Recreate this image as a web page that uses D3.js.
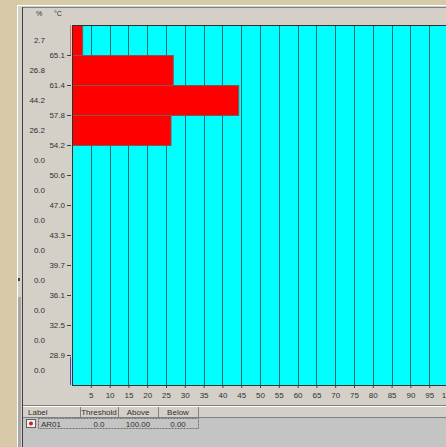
<!DOCTYPE html>
<html>
<head>
<meta charset="utf-8">
<script src="https://cdn.jsdelivr.net/npm/d3@7"></script>
<style>
  html, body { margin: 0; padding: 0; background: #d4d0c8; overflow: hidden; }
  svg { display: block; font-family: "Liberation Sans", Arial, sans-serif; font-size: 8px; }
</style>
</head>
<body>
<svg id="chart" width="446" height="447"></svg>
<script>
// temperature bin edges shown as ticks (top to bottom)
var tempTicks = ["65.1", "61.4", "57.8", "54.2", "50.6", "47.0", "43.3", "39.7", "36.1", "32.5", "28.9"];
// percent of area per bin (top to bottom)
var percents = [2.7, 26.8, 44.2, 26.2, 0.0, 0.0, 0.0, 0.0, 0.0, 0.0, 0.0, 0.0];
var xTicks = d3.range(5, 101, 5);
var tableHeaders = ["Label", "Threshold", "Above", "Below"];
var tableRow = ["AR01", "0.0", "100.00", "0.00"];

var svg = d3.select("#chart");
var W = 446, H = 447;

// window chrome
svg.append("rect").attr("width", W).attr("height", H).attr("fill", "#d4d0c8");
svg.append("rect").attr("width", 17).attr("height", H).attr("fill", "#d6caa8");
svg.append("rect").attr("width", W).attr("height", 5).attr("fill", "#d6caa8");
svg.append("line").attr("x1", 17).attr("x2", W).attr("y1", 5.5).attr("y2", 5.5).attr("stroke", "#ffffff");
svg.append("line").attr("x1", 17.5).attr("x2", 17.5).attr("y1", 5).attr("y2", H).attr("stroke", "#ffffff");
svg.append("line").attr("x1", 22).attr("x2", W).attr("y1", 7.5).attr("y2", 7.5).attr("stroke", "#808080");
svg.append("line").attr("x1", 22.5).attr("x2", 22.5).attr("y1", 7).attr("y2", H).attr("stroke", "#404040");
svg.append("rect").attr("x", 18).attr("y", 297).attr("width", 3).attr("height", H - 297).attr("fill", "#a8a8a8");
svg.append("rect").attr("x", 18).attr("y", 278).attr("width", 2).attr("height", 3).attr("fill", "#404040");

// scales
var x = d3.scaleLinear().domain([0, 100]).range([72, 448]);
var edge = d3.scaleLinear().domain([0, percents.length]).range([25, 385]);
var y = d3.scaleBand().domain(d3.range(percents.length)).range([25, 385]);

// plot background
svg.append("rect")
  .attr("x", x(0)).attr("y", edge(0))
  .attr("width", x(100) - x(0)).attr("height", edge(12) - edge(0))
  .attr("fill", "#00ffff");

// vertical grid
svg.append("g")
  .selectAll("line")
  .data(xTicks)
  .enter()
  .append("line")
  .attr("x1", function(d) { return Math.round(x(d)) + 0.5; })
  .attr("x2", function(d) { return Math.round(x(d)) + 0.5; })
  .attr("y1", edge(0)).attr("y2", edge(12))
  .attr("stroke", "#1f6b6b");

// bars (only bins with a value)
var barData = percents.map(function(p, i) { return { i: i, p: p }; })
  .filter(function(d) { return d.p > 0; });

svg.append("g")
  .selectAll("rect")
  .data(barData)
  .enter()
  .append("rect")
  .attr("x", x(0) + 0.5)
  .attr("y", function(d) { return y(d.i) + 0.5; })
  .attr("width", function(d) { return x(d.p) - x(0); })
  .attr("height", y.bandwidth())
  .attr("fill", "#ff0000")
  .attr("stroke", "#7a5a5a");

// plot frame
svg.append("rect")
  .attr("x", x(0) + 0.5).attr("y", edge(0) + 0.5)
  .attr("width", x(100) - x(0)).attr("height", edge(12) - edge(0))
  .attr("fill", "none").attr("stroke", "#303030");

// max / min markers
svg.append("line")
  .attr("x1", 70.5).attr("x2", 70.5).attr("y1", edge(0)).attr("y2", edge(1))
  .attr("stroke", "#e07070");
svg.append("line")
  .attr("x1", 70.5).attr("x2", 70.5).attr("y1", edge(11) + 2).attr("y2", edge(12))
  .attr("stroke", "#4848c0");

// left axis (temperature at bin edges)
var yAxis = d3.axisLeft(edge)
  .tickValues(d3.range(1, 12))
  .tickFormat(function(i) { return tempTicks[i - 1]; })
  .tickSize(4).tickPadding(2);
var ga = svg.append("g").attr("transform", "translate(71,0)").call(yAxis);
ga.select(".domain").remove();
ga.selectAll("line").attr("stroke", "#404040");
ga.selectAll("text").attr("fill", "#303030").style("font-size", "8px").attr("font-family", "Liberation Sans, Arial, sans-serif");

// percent labels at bin centres
svg.append("g")
  .selectAll("text")
  .data(percents)
  .enter()
  .append("text")
  .attr("x", 45)
  .attr("y", function(d, i) { return y(i) + y.bandwidth() / 2 + 3; })
  .attr("text-anchor", "end")
  .attr("fill", "#303030")
  .text(function(d) { return d.toFixed(1); });

svg.append("text").attr("x", 39).attr("y", 16).attr("text-anchor", "middle").attr("fill", "#303030").style("font-size", "7px").text("%");
svg.append("text").attr("x", 58).attr("y", 16).attr("text-anchor", "middle").attr("fill", "#303030").style("font-size", "7px").text("°C");

// bottom axis
var xAxis = d3.axisBottom(x).tickValues(xTicks).tickSize(3).tickPadding(4);
var gx = svg.append("g").attr("transform", "translate(0,385)").call(xAxis);
gx.select(".domain").remove();
gx.selectAll("line").attr("stroke", "#404040");
gx.selectAll("text").attr("fill", "#303030").style("font-size", "8px").attr("font-family", "Liberation Sans, Arial, sans-serif");

// table area
svg.append("line").attr("x1", 23).attr("x2", W).attr("y1", 405.5).attr("y2", 405.5).attr("stroke", "#808080");
svg.append("line").attr("x1", 23).attr("x2", W).attr("y1", 406.5).attr("y2", 406.5).attr("stroke", "#ffffff");
svg.append("rect").attr("x", 23).attr("y", 418).attr("width", W - 23).attr("height", H - 418).attr("fill", "#c4c4c4");
svg.append("line").attr("x1", 23).attr("x2", W).attr("y1", 417.5).attr("y2", 417.5).attr("stroke", "#808080");

var colEdges = [25, 80, 118, 158, 198];

svg.append("g")
  .selectAll("line")
  .data(colEdges.slice(1))
  .enter()
  .append("line")
  .attr("x1", function(d) { return d + 0.5; })
  .attr("x2", function(d) { return d + 0.5; })
  .attr("y1", 407).attr("y2", 418)
  .attr("stroke", "#808080");

svg.append("g")
  .selectAll("text")
  .data(tableHeaders)
  .enter()
  .append("text")
  .attr("x", function(d, i) { return i == 0 ? 28 : (colEdges[i] + colEdges[i + 1]) / 2; })
  .attr("y", 415)
  .attr("text-anchor", function(d, i) { return i == 0 ? "start" : "middle"; })
  .attr("fill", "#303030")
  .text(function(d) { return d; });

// row: dashed box, icon, values
svg.append("rect").attr("x", 38.5).attr("y", 418.5).attr("width", 160).attr("height", 10)
  .attr("fill", "none").attr("stroke", "#707070").attr("stroke-dasharray", "2,1");
svg.append("rect").attr("x", 26.5).attr("y", 419.5).attr("width", 9).attr("height", 8)
  .attr("fill", "#f0f0f0").attr("stroke", "#606060");
svg.append("circle").attr("cx", 31).attr("cy", 423.5).attr("r", 2).attr("fill", "#d02020");

svg.append("g")
  .selectAll("text")
  .data(tableRow)
  .enter()
  .append("text")
  .attr("x", function(d, i) { return i == 0 ? 41 : (colEdges[i] + colEdges[i + 1]) / 2; })
  .attr("y", 426.5)
  .attr("text-anchor", function(d, i) { return i == 0 ? "start" : "middle"; })
  .attr("fill", "#303030")
  .text(function(d) { return d; });
</script>
</body>
</html>
